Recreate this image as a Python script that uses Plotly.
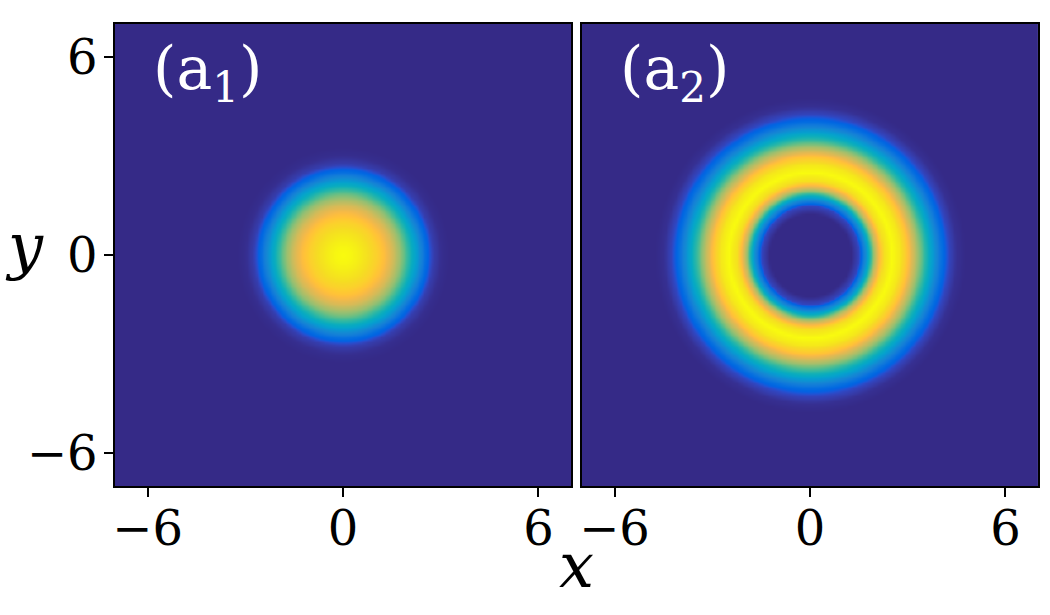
import numpy as np
import plotly.graph_objects as go

# radial intensity profiles (radius -> normalised density)
radius = [0.0, 0.25, 0.5, 0.75, 1.0, 1.25, 1.5, 1.75, 2.0, 2.25, 2.5, 2.75, 3.0,
          3.25, 3.5, 3.75, 4.0, 4.25, 4.5, 4.75, 5.0, 7.5, 10.0]
profile_a1 = [1.0, 0.99, 0.97, 0.94, 0.90, 0.84, 0.76, 0.64, 0.49, 0.33, 0.17, 0.05, 0.01,
              0.0, 0.0, 0.0, 0.0, 0.0, 0.0, 0.0, 0.0, 0.0, 0.0]
profile_a2 = [0.0, 0.0, 0.0, 0.0, 0.0, 0.0, 0.07, 0.34, 0.72, 0.94, 1.0, 0.96, 0.85,
              0.69, 0.50, 0.33, 0.18, 0.07, 0.015, 0.0, 0.0, 0.0, 0.0]
panel_labels = ["(a<sub>1</sub>)", "(a<sub>2</sub>)"]
tick_vals = [-6, 0, 6]

grid = np.linspace(-7, 7, 181)
X, Y = np.meshgrid(grid, grid)
R = np.sqrt(X ** 2 + Y ** 2)
z1 = np.interp(R, radius, profile_a1)
z2 = np.interp(R, radius, profile_a2)

parula = [
    [0.2081, 0.1663, 0.5292], [0.2116, 0.1898, 0.5777], [0.2123, 0.2138, 0.6270], [0.2081, 0.2386, 0.6771],
    [0.1959, 0.2645, 0.7279], [0.1707, 0.2919, 0.7792], [0.1253, 0.3242, 0.8303], [0.0591, 0.3598, 0.8683],
    [0.0117, 0.3875, 0.8820], [0.0060, 0.4086, 0.8828], [0.0165, 0.4266, 0.8786], [0.0329, 0.4430, 0.8720],
    [0.0498, 0.4586, 0.8641], [0.0629, 0.4737, 0.8554], [0.0723, 0.4887, 0.8467], [0.0779, 0.5040, 0.8384],
    [0.0793, 0.5200, 0.8312], [0.0749, 0.5375, 0.8263], [0.0641, 0.5570, 0.8240], [0.0488, 0.5772, 0.8228],
    [0.0343, 0.5966, 0.8199], [0.0265, 0.6137, 0.8135], [0.0239, 0.6287, 0.8038], [0.0231, 0.6418, 0.7913],
    [0.0228, 0.6535, 0.7768], [0.0267, 0.6642, 0.7607], [0.0384, 0.6743, 0.7436], [0.0590, 0.6838, 0.7254],
    [0.0843, 0.6928, 0.7062], [0.1133, 0.7015, 0.6859], [0.1453, 0.7098, 0.6646], [0.1801, 0.7177, 0.6424],
    [0.2178, 0.7250, 0.6193], [0.2586, 0.7317, 0.5954], [0.3022, 0.7376, 0.5712], [0.3482, 0.7424, 0.5473],
    [0.3953, 0.7459, 0.5244], [0.4420, 0.7481, 0.5033], [0.4871, 0.7491, 0.4840], [0.5300, 0.7491, 0.4661],
    [0.5709, 0.7485, 0.4494], [0.6099, 0.7473, 0.4337], [0.6473, 0.7456, 0.4188], [0.6834, 0.7435, 0.4044],
    [0.7184, 0.7411, 0.3905], [0.7525, 0.7384, 0.3768], [0.7858, 0.7356, 0.3633], [0.8185, 0.7327, 0.3498],
    [0.8507, 0.7299, 0.3360], [0.8824, 0.7274, 0.3217], [0.9139, 0.7258, 0.3063], [0.9450, 0.7261, 0.2886],
    [0.9739, 0.7314, 0.2666], [0.9938, 0.7455, 0.2403], [0.9990, 0.7653, 0.2164], [0.9955, 0.7861, 0.1967],
    [0.9880, 0.8066, 0.1794], [0.9789, 0.8271, 0.1633], [0.9697, 0.8481, 0.1475], [0.9626, 0.8705, 0.1309],
    [0.9589, 0.8949, 0.1132], [0.9598, 0.9218, 0.0948], [0.9661, 0.9514, 0.0755], [0.9763, 0.9831, 0.0538],
]
n = len(parula)
colorscale = [[i / (n - 1), "rgb(%d,%d,%d)" % tuple(int(round(c * 255)) for c in rgb)]
              for i, rgb in enumerate(parula)]

FONT = "DejaVu Serif"

fig = go.Figure()
for k, z in enumerate([z1, z2]):
    fig.add_trace(go.Heatmap(
        x=grid, y=grid, z=z, zmin=0, zmax=1, colorscale=colorscale,
        zsmooth="best", showscale=False, hoverinfo="skip",
        xaxis="x" if k == 0 else "x2", yaxis="y" if k == 0 else "y2"))

axis_common = dict(range=[-7, 7], showline=True, linecolor="black", linewidth=1.5,
                   mirror=True, showgrid=False, zeroline=False,
                   ticks="outside", ticklen=9, tickwidth=1.5, tickcolor="black",
                   tickvals=tick_vals, tickfont=dict(family=FONT, size=48, color="black"))

fig.update_layout(
    width=1050, height=615,
    margin=dict(l=115, r=10, t=24, b=129),
    paper_bgcolor="white", plot_bgcolor="white",
    showlegend=False,
    xaxis=dict(domain=[0, 0.4941], anchor="y", ticklabelstandoff=-9, **axis_common),
    xaxis2=dict(domain=[0.5059, 1], anchor="y2", ticklabelstandoff=-9, **axis_common),
    yaxis=dict(domain=[0, 1], anchor="x", ticklabelstandoff=-3, **axis_common),
    yaxis2=dict(domain=[0, 1], anchor="x2", showticklabels=False,
                **{k: v for k, v in axis_common.items() if k != "ticks"}, ticks=""),
)

annotations = []
for k, lab in enumerate(panel_labels):
    annotations.append(dict(
        text=lab, xref="x domain" if k == 0 else "x2 domain", yref="paper",
        x=0.08, y=0.985, xanchor="left", yanchor="top", showarrow=False,
        font=dict(family=FONT, size=60, color="white")))
annotations.append(dict(text="<i>x</i>", xref="paper", yref="paper", x=0.5, y=-0.172,
                        xanchor="center", yanchor="middle", showarrow=False,
                        font=dict(family=FONT, size=62, color="black")))
annotations.append(dict(text="<i>y</i>", xref="paper", yref="paper", x=-0.098, y=0.52,
                        xanchor="center", yanchor="middle", showarrow=False,
                        font=dict(family=FONT, size=62, color="black")))
fig.update_layout(annotations=annotations)

fig.write_html("out.html")
